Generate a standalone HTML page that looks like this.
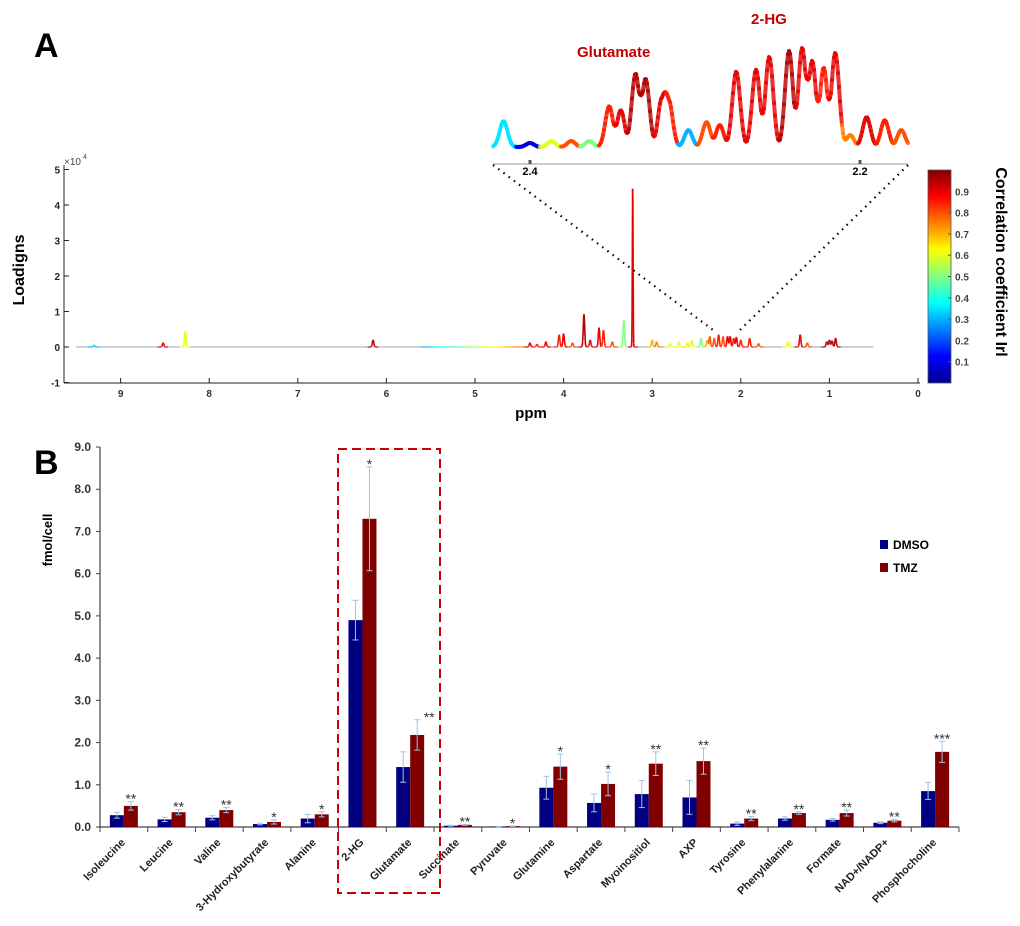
<!DOCTYPE html>
<html><head><meta charset="utf-8"><style>
body{margin:0;background:#fff;}
svg{display:block;font-family:"Liberation Sans",sans-serif;}
</style></head><body>
<svg id="fig" width="1020" height="926" viewBox="0 0 1020 926">
<defs>
<linearGradient id="jet" x1="0" y1="1" x2="0" y2="0">
<stop offset="0" stop-color="#00008f"/><stop offset="0.125" stop-color="#0000ff"/><stop offset="0.375" stop-color="#00ffff"/><stop offset="0.625" stop-color="#ffff00"/><stop offset="0.875" stop-color="#ff0000"/><stop offset="1" stop-color="#800000"/>
</linearGradient>
</defs>
<text x="34" y="57" font-size="34" font-weight="bold">A</text>
<text x="34" y="474" font-size="34" font-weight="bold">B</text>
<g id="gA"></g>
<g id="gInset"></g>
<g id="gCB"></g>
<g id="gB"></g>
</svg>
<script>
// ---------- Panel A data ----------
const specPeakPpm = [9.3,8.52,8.27,6.15,4.38,4.3,4.2,4.05,4.0,3.9,3.77,3.7,3.6,3.55,3.45,3.32,3.22,3.0,2.95,2.8,2.7,2.6,2.55,2.45,2.38,2.35,2.3,2.25,2.2,2.15,2.12,2.08,2.05,2.0,1.9,1.8,1.47,1.33,1.25,1.03,1.0,0.97,0.93];
const specPeakHeight = [0.05,0.12,0.45,0.2,0.12,0.08,0.15,0.35,0.38,0.12,0.92,0.2,0.55,0.48,0.15,0.75,4.6,0.2,0.15,0.1,0.15,0.12,0.2,0.25,0.2,0.3,0.25,0.35,0.3,0.3,0.3,0.25,0.28,0.2,0.25,0.1,0.15,0.35,0.12,0.15,0.2,0.18,0.25];
const specPeakCorr = [0.3,0.9,0.6,0.95,0.9,0.85,0.9,0.85,0.9,0.8,0.95,0.9,0.9,0.85,0.8,0.5,0.9,0.7,0.75,0.6,0.6,0.65,0.6,0.5,0.7,0.8,0.8,0.85,0.8,0.9,0.9,0.85,0.9,0.85,0.85,0.8,0.6,0.9,0.8,0.95,0.95,0.95,0.95];
const yTicksA = [5,4,3,2,1,0,-1];
const xTicksA = [9,8,7,6,5,4,3,2,1,0];
const insetPpm = [2.416,2.4,2.387,2.375,2.364,2.352,2.345,2.336,2.330,2.320,2.316,2.304,2.293,2.285,2.275,2.263,2.255,2.243,2.235,2.229,2.222,2.215,2.206,2.196,2.185,2.175];
const insetInt = [0.26,0.04,0.06,0.06,0.06,0.41,0.37,0.74,0.69,0.5,0.48,0.17,0.25,0.22,0.76,0.78,0.91,0.97,1.0,0.87,0.80,0.95,0.12,0.30,0.27,0.17];
const insetCorr = [0.35,0.1,0.6,0.8,0.5,0.85,0.9,0.95,0.95,0.9,0.85,0.3,0.8,0.85,0.9,0.9,0.9,0.95,0.9,0.9,0.85,0.9,0.75,0.9,0.85,0.8];
const cbTicks = [0.1,0.2,0.3,0.4,0.5,0.6,0.7,0.8,0.9];
// ---------- Panel B data ----------
const categories = ["Isoleucine","Leucine","Valine","3-Hydroxybutyrate","Alanine","2-HG","Glutamate","Succinate","Pyruvate","Glutamine","Aspartate","Myoinositiol","AXP","Tyrosine","Phenylalanine","Formate","NAD+/NADP+","Phosphocholine"];
const dmso = [0.28,0.18,0.22,0.07,0.2,4.9,1.42,0.03,0.01,0.93,0.57,0.78,0.7,0.08,0.2,0.17,0.1,0.85];
const dmsoErr = [0.07,0.05,0.05,0.02,0.1,0.47,0.36,0.01,0.005,0.27,0.21,0.32,0.4,0.04,0.04,0.03,0.02,0.2];
const tmz = [0.5,0.35,0.4,0.12,0.3,7.3,2.18,0.05,0.02,1.43,1.02,1.5,1.56,0.2,0.33,0.33,0.15,1.78];
const tmzErr = [0.1,0.06,0.06,0.05,0.06,1.23,0.36,0.01,0.005,0.3,0.28,0.28,0.31,0.05,0.03,0.07,0.03,0.25];
const signif = ["**","**","**","*","*","*","**","**","*","*","*","**","**","**","**","**","**","***"];
const yTicksB = [0,1,2,3,4,5,6,7,8,9];

const NS="http://www.w3.org/2000/svg";
function mk(parent,tag,attrs,txt){const e=document.createElementNS(NS,tag);for(const k in attrs)e.setAttribute(k,attrs[k]);if(txt!==undefined)e.textContent=txt;parent.appendChild(e);return e;}
function jet(v){v=Math.max(0,Math.min(1,v));const r=Math.max(0,Math.min(1,1.5-Math.abs(4*v-3))),g=Math.max(0,Math.min(1,1.5-Math.abs(4*v-2))),b=Math.max(0,Math.min(1,1.5-Math.abs(4*v-1)));return `rgb(${Math.round(r*255)},${Math.round(g*255)},${Math.round(b*255)})`;}

// ---------- Panel A ----------
const gA=document.getElementById('gA');
const ax=p=>918-88.6*p, ay=v=>347-35.5*v;
let e;
e=mk(gA,'line',{x1:64,y1:165,x2:64,y2:383,stroke:'#222','stroke-width':1});

e=mk(gA,'line',{x1:64,y1:383,x2:920,y2:383,stroke:'#222','stroke-width':1});

yTicksA.forEach(t=>{mk(gA,'line',{x1:64,y1:ay(t),x2:69,y2:ay(t),stroke:'#222'});
 e=mk(gA,'text',{x:60,y:ay(t)+4,'font-size':10,'font-weight':'bold','text-anchor':'end',fill:'#222'},String(t));
 });
e=mk(gA,'text',{x:64,y:165,'font-size':10,fill:'#444'},'×10');
mk(gA,'text',{x:83,y:159,'font-size':7,fill:'#444'},'4');
xTicksA.forEach(t=>{mk(gA,'line',{x1:ax(t),y1:383,x2:ax(t),y2:378,stroke:'#222'});
 e=mk(gA,'text',{x:ax(t),y:397,'font-size':10,'font-weight':'bold','text-anchor':'middle',fill:'#333'},String(t));
 });
e=mk(gA,'text',{x:531,y:418,'font-size':15,'font-weight':'bold','text-anchor':'middle'},'ppm');

e=mk(gA,'text',{x:0,y:0,'font-size':16,'font-weight':'bold','text-anchor':'middle',transform:'translate(24,270) rotate(-90)'},'Loadigns');

// spectrum
(function(){
 const sig=0.008;let prev=null;
 for(let p=9.5;p>=0.5;p-=0.003){
  let v=0,best=1e9,c=null;
  specPeakPpm.forEach((pp,i)=>{const d=p-pp;const s=specPeakHeight[i]>2?0.004:sig;v+=specPeakHeight[i]*Math.exp(-d*d/(2*s*s));if(Math.abs(d)<best){best=Math.abs(d);c=specPeakCorr[i];}});
  let col=best<0.06?jet(c):(p<5.6&&p>4.4?jet(0.3+(5.6-p)*0.4):'#a8b0c0');
  const pt=[ax(p),ay(v)];
  if(prev){e=mk(gA,'line',{x1:prev[0],y1:prev[1],x2:pt[0],y2:pt[1],stroke:col,'stroke-width':1.6});
   }
  prev=pt;
 }
})();
// zoom lines
e=mk(gA,'line',{x1:493,y1:165,x2:713,y2:330,stroke:'#000','stroke-width':2.2,'stroke-dasharray':'1.5 5'});

e=mk(gA,'line',{x1:908,y1:165,x2:740,y2:330,stroke:'#000','stroke-width':2.2,'stroke-dasharray':'1.5 5'});


// ---------- Inset ----------
const gI=document.getElementById('gInset');
const ix=p=>530-(p-2.4)*1650, iy=v=>147-99*v;
e=mk(gI,'line',{x1:493,y1:164,x2:908,y2:164,stroke:'#999','stroke-width':1});

[2.4,2.2].forEach(t=>{mk(gI,'rect',{x:ix(t)-1.5,y:160,width:3,height:4,fill:'#555'});
 e=mk(gI,'text',{x:ix(t),y:175,'font-size':11,'font-weight':'bold','text-anchor':'middle'},t.toFixed(1));
 });
(function(){
 const sig=0.0024;let prev=null;
 for(let xp=493;xp<=908;xp+=1){
  const p=2.4-(xp-530)/1650;let v=0,best=1e9,c=0.5,mx=0;
  insetPpm.forEach((pp,i)=>{const d=p-pp;const g=insetInt[i]*Math.exp(-d*d/(2*sig*sig));v+=g*0.8;mx=Math.max(mx,g);if(Math.abs(d)<best){best=Math.abs(d);c=insetCorr[i];}});
  v=Math.max(mx,Math.min(v,1));
  const pt=[ix(p),iy(v)];
  if(prev){e=mk(gI,'line',{x1:prev[0],y1:prev[1],x2:pt[0],y2:pt[1],stroke:jet(c),'stroke-width':4,'stroke-linecap':'round','stroke-opacity':0.8});
   }
  prev=pt;
 }
})();
e=mk(gI,'text',{x:577,y:57,'font-size':15,'font-weight':'bold',fill:'#c00000'},'Glutamate');

e=mk(gI,'text',{x:751,y:24,'font-size':15,'font-weight':'bold',fill:'#c00000'},'2-HG');


// ---------- Colorbar ----------
const gC=document.getElementById('gCB');
e=mk(gC,'rect',{x:928,y:170,width:23,height:213,fill:'url(#jet)',stroke:'#555','stroke-width':0.8});

const cy=v=>383-213*v;
cbTicks.forEach(t=>{mk(gC,'line',{x1:951,y1:cy(t),x2:948,y2:cy(t),stroke:'#555'});
 e=mk(gC,'text',{x:955,y:cy(t)+4,'font-size':10,'font-weight':'bold',fill:'#444'},t.toFixed(1));
 });
e=mk(gC,'text',{x:0,y:0,'font-size':16,'font-weight':'bold','text-anchor':'middle',transform:'translate(996,262) rotate(90)'},'Correlation coefficient Irl');


// ---------- Panel B ----------
const gB=document.getElementById('gB');
const x0=100,band=47.72,by=v=>827-42.22*v,bw=14;
e=mk(gB,'line',{x1:x0,y1:447,x2:x0,y2:828,stroke:'#444','stroke-width':1.2});

e=mk(gB,'line',{x1:x0,y1:827,x2:x0+band*categories.length,y2:827,stroke:'#444','stroke-width':1.2});

yTicksB.forEach(t=>{mk(gB,'line',{x1:x0-4,y1:by(t),x2:x0,y2:by(t),stroke:'#444'});
 e=mk(gB,'text',{x:x0-9,y:by(t)+4,'font-size':12,'font-weight':'bold','text-anchor':'end',fill:'#333'},t.toFixed(1));
 });
for(let i=0;i<=categories.length;i++){mk(gB,'line',{x1:x0+band*i,y1:827,x2:x0+band*i,y2:832,stroke:'#444'});}
e=mk(gB,'text',{x:0,y:0,'font-size':13,'font-weight':'bold','text-anchor':'middle',transform:'translate(52,540) rotate(-90)'},'fmol/cell');

categories.forEach((c,i)=>{
 const cx=x0+band*(i+0.5);
 e=mk(gB,'rect',{x:cx-bw,y:by(dmso[i]),width:bw,height:827-by(dmso[i]),fill:'#000080'});
 
 e=mk(gB,'rect',{x:cx,y:by(tmz[i]),width:bw,height:827-by(tmz[i]),fill:'#800000'});
 
 [[cx-bw/2,dmso[i],dmsoErr[i]],[cx+bw/2,tmz[i],tmzErr[i]]].forEach(([ex,v,er])=>{
  const g=mk(gB,'g',{stroke:'#9ec3e6','stroke-width':1});
  
  mk(g,'line',{x1:ex,y1:by(v+er),x2:ex,y2:by(v-er)});
  mk(g,'line',{x1:ex-3,y1:by(v+er),x2:ex+3,y2:by(v+er)});
  mk(g,'line',{x1:ex-3,y1:by(v-er),x2:ex+3,y2:by(v-er)});
 });
 const sx=(i===6)?cx+bw/2+12:cx+bw/2;
 e=mk(gB,'text',{x:sx,y:by(tmz[i]+tmzErr[i])+2,'font-size':14,'text-anchor':'middle',fill:'#333'},signif[i]);
 
 e=mk(gB,'text',{x:0,y:0,'font-size':11,'font-weight':'bold','text-anchor':'end',fill:'#222',transform:`translate(${cx+2},${843}) rotate(-45)`},c);
 
});
e=mk(gB,'rect',{x:338,y:449,width:102,height:444,fill:'none',stroke:'#cc0000','stroke-width':2,'stroke-dasharray':'9 5'});

// legend
e=mk(gB,'rect',{x:880,y:540,width:8,height:9,fill:'#000080'});
e=mk(gB,'text',{x:893,y:549,'font-size':12,'font-weight':'bold'},'DMSO');
e=mk(gB,'rect',{x:880,y:563,width:8,height:9,fill:'#800000'});
e=mk(gB,'text',{x:893,y:572,'font-size':12,'font-weight':'bold'},'TMZ');
</script>
</body></html>
